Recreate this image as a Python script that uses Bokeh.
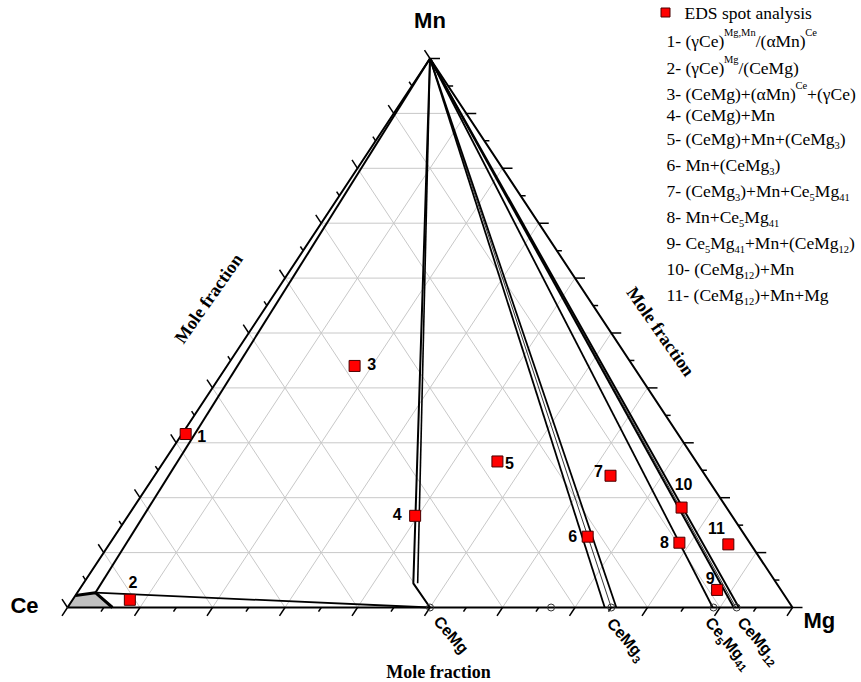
import math
from bokeh.plotting import figure
from bokeh.models import Range1d
from bokeh.core.properties import value
from bokeh.embed import file_html
from bokeh.resources import INLINE

# ---------------- data (mole fractions) ----------------
components = ["Ce", "Mg", "Mn"]

spot_ids = ["1", "2", "3", "4", "5", "6", "7", "8", "9", "10", "11"]
spot_mg = [0.005, 0.079, 0.176, 0.396, 0.460, 0.653, 0.629, 0.785, 0.880, 0.756, 0.854]
spot_mn = [0.316, 0.014, 0.440, 0.167, 0.266, 0.129, 0.240, 0.118, 0.032, 0.182, 0.115]

compound_names = ["CeMg", "CeMg2", "CeMg3", "Ce5Mg41", "CeMg12"]
compound_mg = [0.500, 0.667, 0.750, 0.891, 0.923]

# phase-boundary compositions (Mg, Mn)
ce_region_mg = [0.000, 0.000, 0.025, 0.062]
ce_region_mn = [0.000, 0.022, 0.027, 0.000]
cemg_kink_mg = [0.455, 0.461]
cemg_kink_mn = [0.044, 0.044]
cemg3_band_mg = [0.741, 0.750, 0.757]
ce5mg41_line_mg = [0.890]
cemg12_band_mg = [0.919, 0.922, 0.926]

grid_fracs = [0.1, 0.2, 0.3, 0.4, 0.5, 0.6, 0.7, 0.8, 0.9]
tick_fracs = [0.00, 0.05, 0.10, 0.15, 0.20, 0.25, 0.30, 0.35, 0.40, 0.45, 0.50,
              0.55, 0.60, 0.65, 0.70, 0.75, 0.80, 0.85, 0.90, 0.95, 1.00]

legend_title = "EDS spot analysis"
legend_rows = [
    [("1- (γCe)", "n"), ("Mg,Mn", "sup"), ("/(αMn)", "n"), ("Ce", "sup")],
    [("2- (γCe)", "n"), ("Mg", "sup"), ("/(CeMg)", "n")],
    [("3- (CeMg)+(αMn)", "n"), ("Ce", "sup"), ("+(γCe)", "n")],
    [("4- (CeMg)+Mn", "n")],
    [("5- (CeMg)+Mn+(CeMg", "n"), ("3", "sub"), (")", "n")],
    [("6- Mn+(CeMg", "n"), ("3", "sub"), (")", "n")],
    [("7- (CeMg", "n"), ("3", "sub"), (")+Mn+Ce", "n"), ("5", "sub"), ("Mg", "n"), ("41", "sub")],
    [("8- Mn+Ce", "n"), ("5", "sub"), ("Mg", "n"), ("41", "sub")],
    [("9- Ce", "n"), ("5", "sub"), ("Mg", "n"), ("41", "sub"), ("+Mn+(CeMg", "n"), ("12", "sub"), (")", "n")],
    [("10- (CeMg", "n"), ("12", "sub"), (")+Mn", "n")],
    [("11- (CeMg", "n"), ("12", "sub"), (")+Mn+Mg", "n")],
]
compound_label_idx = [0, 2, 3, 4]
compound_label_segs = [
    [("CeMg", "n")],
    [("CeMg", "n"), ("3", "sub")],
    [("Ce", "n"), ("5", "sub"), ("Mg", "n"), ("41", "sub")],
    [("CeMg", "n"), ("12", "sub")],
]
axis_title = "Mole fraction"

# ---------------- layout / style ----------------
W, H = 861, 682
PX_CE_X, PX_BASE_Y = 67.0, 607.0
SX, SY = 725.0, 549.0          # pixels per unit of ternary x / height

def to_xy(mg, mn):
    return mg + mn / 2.0, mn

def sh(x, y, dxp, dyp):
    """shift data point by screen pixels (dy down positive)"""
    return x + dxp / SX, y - dyp / SY

def px2d(xp, yp):
    return (xp - PX_CE_X) / SX, (PX_BASE_Y - yp) / SY

p = figure(width=W, height=H, output_backend="svg", toolbar_location=None,
           x_range=Range1d(-PX_CE_X / SX, (W - PX_CE_X) / SX),
           y_range=Range1d(-(H - PX_BASE_Y) / SY, PX_BASE_Y / SY),
           x_axis_type=None, y_axis_type=None, min_border=0)
p.grid.visible = False
p.outline_line_color = None
p.background_fill_color = "white"
p.border_fill_color = "white"

# grid
gx, gy = [], []
for t in grid_fracs:
    for (a, b) in [((0, t), (1 - t, t)), ((t, 0), (t, 1 - t)), ((1 - t, 0), (0, 1 - t))]:
        xa, ya = to_xy(*a)
        xb, yb = to_xy(*b)
        gx.append([xa, xb]); gy.append([ya, yb])
p.multi_line(gx, gy, line_color="#c8c8c8", line_width=1)

# ticks
def unit(dx, dy):
    n = math.hypot(dx, dy)
    return dx / n, dy / n
d_bottom = unit(-0.5 * SX, SY)
d_left = unit(-0.5 * SX, -SY)
d_right = (1.0, 0.0)
tx, ty = [], []
for i, t in enumerate(tick_fracs):
    L = 10 if i % 2 == 0 else 5
    for base, d in [(to_xy(t, 0), d_bottom), (to_xy(1 - t, t), d_right), (to_xy(0, t), d_left)]:
        e = sh(base[0], base[1], d[0] * L, d[1] * L)
        tx.append([base[0], e[0]]); ty.append([base[1], e[1]])
p.multi_line(tx, ty, line_color="black", line_width=1.5)

# Ce-rich region
rx, ry = zip(*[to_xy(m, n) for m, n in zip(ce_region_mg, ce_region_mn)])
p.patch(list(rx), list(ry), fill_color="#c0c0c0", line_color=None)

apex = to_xy(0, 1)
ce_pt = to_xy(0, 0)
mg_pt = to_xy(1, 0)
cemg = to_xy(compound_mg[0], 0)
g2 = to_xy(ce_region_mg[1], ce_region_mn[1])
g3 = to_xy(ce_region_mg[2], ce_region_mn[2])
g4 = to_xy(ce_region_mg[3], ce_region_mn[3])
k1 = to_xy(cemg_kink_mg[0], cemg_kink_mn[0])
k2 = to_xy(cemg_kink_mg[1], cemg_kink_mn[1])

# triangle and phase boundaries
p.line([ce_pt[0], mg_pt[0], apex[0], ce_pt[0]], [ce_pt[1], mg_pt[1], apex[1], ce_pt[1]],
       line_color="black", line_width=2)
p.line([g2[0], g3[0], g4[0]], [g2[1], g3[1], g4[1]], line_color="black", line_width=3)
p.line([g3[0], cemg[0]], [g3[1], cemg[1]], line_color="black", line_width=1.8)
p.line([g3[0], apex[0]], [g3[1], apex[1]], line_color="black", line_width=2)
p.line([apex[0], k1[0], cemg[0]], [apex[1], k1[1], cemg[1]], line_color="black", line_width=2)
p.line([apex[0], k2[0]], [apex[1], k2[1]], line_color="black", line_width=1.6)
for m, w in zip(cemg3_band_mg, [1.8, 0.8, 1.8]):
    b = to_xy(m, 0)
    p.line([apex[0], b[0]], [apex[1], b[1]], line_color="black", line_width=w)
for m in ce5mg41_line_mg:
    b = to_xy(m, 0)
    p.line([apex[0], b[0]], [apex[1], b[1]], line_color="black", line_width=1.8)
for m, w in zip(cemg12_band_mg, [2, 0.8, 2]):
    b = to_xy(m, 0)
    p.line([apex[0], b[0]], [apex[1], b[1]], line_color="black", line_width=w)

# compound markers
cx = [to_xy(m, 0)[0] for m in compound_mg]
p.scatter(cx, [0] * len(cx), marker="circle", size=7, fill_color=None,
          line_color="#333333", line_width=1)

# spots
sx = [to_xy(m, n)[0] for m, n in zip(spot_mg, spot_mn)]
sy = [to_xy(m, n)[1] for m, n in zip(spot_mg, spot_mn)]
p.scatter(sx, sy, marker="square", size=11, fill_color="#ff0000",
          line_color="#4a0000", line_width=1)

SANS = value("Liberation Sans")
SERIF = value("Liberation Serif")

lab_dx = [16, 3, 17, -18, 12, -15, -12, -15, -7, 2, -12]
lab_dy = [2, -18, -2, -2, 1.5, -1, -5, -1, -12, -23.5, -16.5]
lx, ly = [], []
for x, y, dx, dy in zip(sx, sy, lab_dx, lab_dy):
    a, b = sh(x, y, dx, dy)
    lx.append(a); ly.append(b)
p.text(lx, ly, text=spot_ids, text_font=SANS, text_font_style="bold",
       text_font_size="16px", text_align="center", text_baseline="middle", text_color="black")

# vertex labels
for (pt, dx, dy, al, txt) in [(ce_pt, -29, -2, "right", components[0]),
                              (mg_pt, 11, 13, "left", components[1]),
                              (apex, 0, -38, "center", components[2])]:
    a, b = sh(pt[0], pt[1], dx, dy)
    p.text([a], [b], text=[txt], text_font=SANS, text_font_style="bold", text_font_size="22px",
           text_align=al, text_baseline="middle", text_color="black")

# advance widths (per 1000 em)
TIMES = {' ': 250, '(': 333, ')': 333, '+': 564, ',': 250, '-': 333, '/': 278,
         'A': 722, 'C': 667, 'D': 722, 'E': 611, 'M': 889, 'S': 556,
         'a': 444, 'c': 444, 'e': 444, 'g': 500, 'i': 278, 'l': 278, 'n': 500, 'o': 500,
         'p': 500, 's': 389, 't': 278, 'y': 500, 'γ': 420, 'α': 500}
ARIALB = {'C': 722, 'e': 556, 'M': 833, 'g': 611}

def tw(s, table, size):
    return sum(table.get(c, 500 if table is TIMES else 556) for c in s) * size / 1000.0

# compound labels (rotated)
ang = math.radians(-49)
u = (math.cos(ang), -math.sin(ang))
v = (math.sin(ang), math.cos(ang))
comp_off = [(7, 11), (-1, 13), (-5, 12), (4, 12)]
seg = {"n": ([], [], []), "sub": ([], [], [])}
for idx, segs, off in zip(compound_label_idx, compound_label_segs, comp_off):
    bx, by = to_xy(compound_mg[idx], 0)
    adv = 0.0
    for txt, kind in segs:
        size = 16 if kind == "n" else 11
        shift = 0 if kind == "n" else 6
        ox = off[0] + u[0] * adv + v[0] * shift
        oy = off[1] + u[1] * adv + v[1] * shift
        a, b = sh(bx, by, ox, oy)
        seg[kind][0].append(a); seg[kind][1].append(b); seg[kind][2].append(txt)
        adv += tw(txt, ARIALB, size)
for kind, size in [("n", "16px"), ("sub", "11px")]:
    xs_, ys_, ts_ = seg[kind]
    p.text(xs_, ys_, text=ts_, angle=ang, text_font=SANS, text_font_style="bold",
           text_font_size=size, text_align="left", text_baseline="middle", text_color="black")

# axis titles
for (xp, yp, a_deg) in [(438, 671, 0), (208, 298, 55), (660, 331, -55)]:
    a, b = px2d(xp, yp)
    p.text([a], [b], text=[axis_title], angle=math.radians(a_deg), text_font=SERIF,
           text_font_style="bold", text_font_size="18px", text_align="center",
           text_baseline="middle", text_color="black")

# legend
mx, my = px2d(665, 12)
p.scatter([mx], [my], marker="square", size=9, fill_color="#ff0000", line_color="#4a0000", line_width=1)
a, b = px2d(684, 12)
p.text([a], [b], text=[legend_title], text_font=SERIF, text_font_size="17.5px",
       text_align="left", text_baseline="middle", text_color="black")

row_mid = [40, 67, 93, 114, 138, 164, 190, 216, 242, 268, 294]
lsegs = {"n": ([], [], []), "sup": ([], [], []), "sub": ([], [], [])}
LSIZE = {"n": 17.5, "sup": 10.5, "sub": 10.5}
LSHIFT = {"n": 0, "sup": -8, "sub": 7}
for segs, yc in zip(legend_rows, row_mid):
    xcur = 666.0
    for txt, kind in segs:
        a, b = px2d(xcur, yc + LSHIFT[kind])
        lsegs[kind][0].append(a); lsegs[kind][1].append(b); lsegs[kind][2].append(txt)
        xcur += tw(txt, TIMES, LSIZE[kind])
for kind in ["n", "sup", "sub"]:
    xs_, ys_, ts_ = lsegs[kind]
    p.text(xs_, ys_, text=ts_, text_font=SERIF, text_font_size=f"{LSIZE[kind]}px",
           text_align="left", text_baseline="middle", text_color="black")

open("out.html", "w").write(file_html(p, INLINE, title="Ce-Mg-Mn ternary"))
